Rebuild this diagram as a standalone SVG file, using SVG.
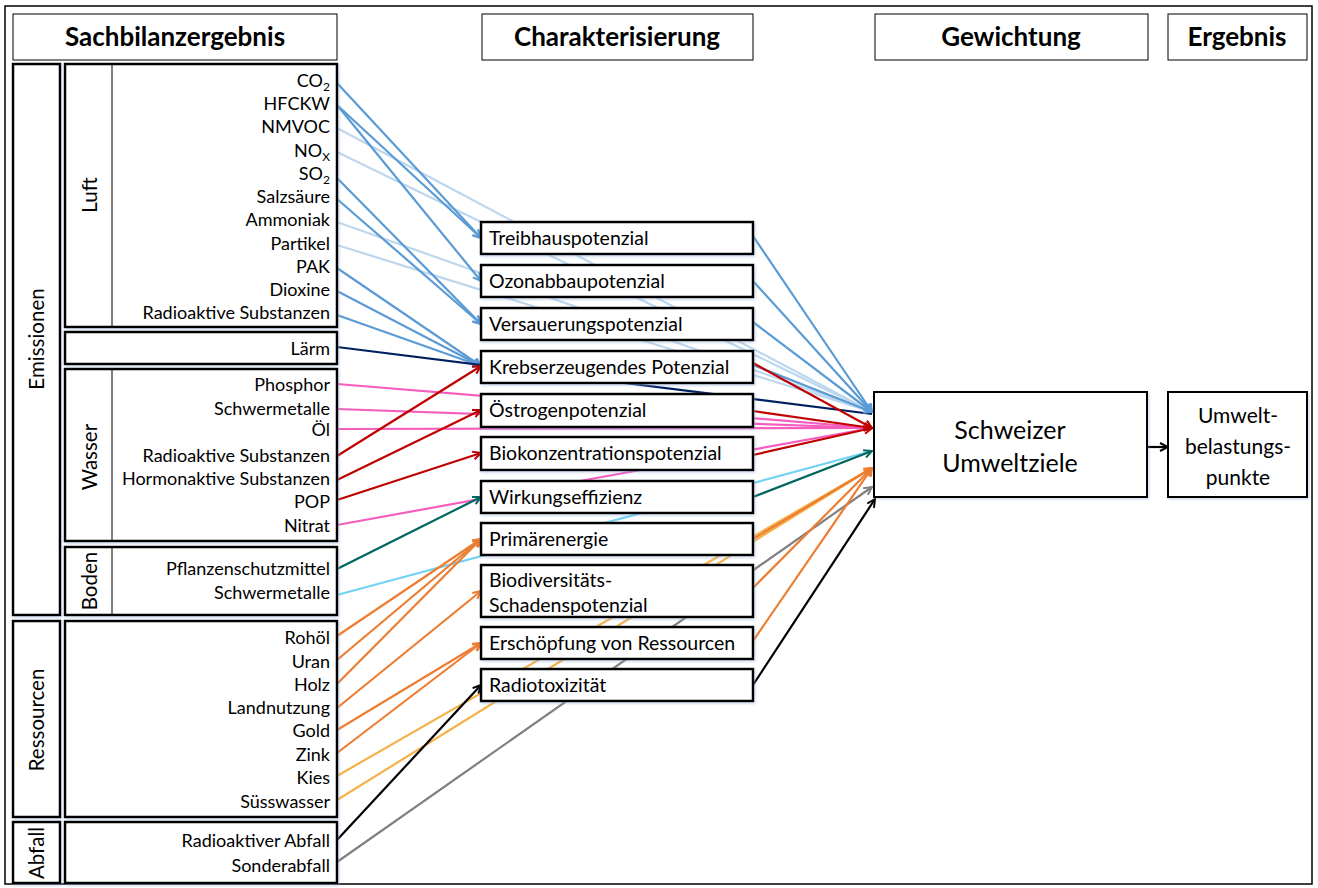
<svg xmlns="http://www.w3.org/2000/svg" width="1318" height="888" viewBox="0 0 1318 888">
<style>
text{font-family:Lato,"Open Sans","Liberation Sans",sans-serif;fill:#000}
.frame{fill:#fff;stroke:#000;stroke-width:1.5}
.hbox{fill:#fff;stroke:#000;stroke-width:1}
.box{fill:#fff;stroke:#000;stroke-width:2.5;filter:url(#sh)}
.thin{stroke:#000;stroke-width:1}
.hdr{font-weight:bold;font-size:26px;text-anchor:middle}
.lbl{font-size:18px;text-anchor:end}
.sub{font-size:12px}
.rot{font-size:20.5px;text-anchor:middle}
.mid{font-size:19.5px}
.big{font-size:25px;text-anchor:middle}
.res{font-size:21px;text-anchor:middle}
.c path{fill:none;stroke-width:2.2}
.bl{stroke:#5B9BD5}
.lb{stroke:#BDD7EE}
.nv{stroke:#002060}
.pk{stroke:#F55DBE}
.rd{stroke:#C00000}
.tl{stroke:#00665E}
.cy{stroke:#72D1F4}
.or{stroke:#ED7D31}
.lo{stroke:#F5B24A}
.gy{stroke:#808080}
.bk{stroke:#000}
</style>
<defs>
<filter id="sh" x="-5%" y="-5%" width="110%" height="120%">
<feDropShadow dx="1.2" dy="1.5" stdDeviation="1" flood-color="#8faad0" flood-opacity="0.45"/>
</filter>
<marker id="aBl" viewBox="0 0 10 10" refX="9" refY="5" markerWidth="10" markerHeight="10" markerUnits="userSpaceOnUse" orient="auto"><path d="M1,1 L9,5 L1,9" fill="none" stroke="#5B9BD5" stroke-width="2"/></marker>
<marker id="aRd" viewBox="0 0 10 10" refX="9" refY="5" markerWidth="10" markerHeight="10" markerUnits="userSpaceOnUse" orient="auto"><path d="M1,1 L9,5 L1,9" fill="none" stroke="#C00000" stroke-width="2"/></marker>
<marker id="aTl" viewBox="0 0 10 10" refX="9" refY="5" markerWidth="10" markerHeight="10" markerUnits="userSpaceOnUse" orient="auto"><path d="M1,1 L9,5 L1,9" fill="none" stroke="#00665E" stroke-width="2"/></marker>
<marker id="aOr" viewBox="0 0 10 10" refX="9" refY="5" markerWidth="10" markerHeight="10" markerUnits="userSpaceOnUse" orient="auto"><path d="M1,1 L9,5 L1,9" fill="none" stroke="#ED7D31" stroke-width="2"/></marker>
<marker id="aGy" viewBox="0 0 10 10" refX="9" refY="5" markerWidth="10" markerHeight="10" markerUnits="userSpaceOnUse" orient="auto"><path d="M1,1 L9,5 L1,9" fill="none" stroke="#808080" stroke-width="2"/></marker>
<marker id="aBk" viewBox="0 0 10 10" refX="9" refY="5" markerWidth="10" markerHeight="10" markerUnits="userSpaceOnUse" orient="auto"><path d="M1,1 L9,5 L1,9" fill="none" stroke="#000" stroke-width="2"/></marker>
</defs>

<rect class="frame" x="5" y="6" width="1307" height="878"/>

<g id="headers">
<g id="h-sachbilanz"><rect class="hbox" x="13" y="14" width="324" height="46"/><text class="hdr" x="175" y="46">Sachbilanzergebnis</text></g>
<g id="h-charakterisierung"><rect class="hbox" x="482" y="14" width="271" height="46"/><text class="hdr" x="617" y="46">Charakterisierung</text></g>
<g id="h-gewichtung"><rect class="hbox" x="875" y="14" width="273" height="46"/><text class="hdr" x="1011" y="46">Gewichtung</text></g>
<g id="h-ergebnis"><rect class="hbox" x="1168" y="14" width="139" height="46"/><text class="hdr" x="1237" y="46">Ergebnis</text></g>
</g>

<g id="connectors" class="c">
<path class="lb" d="M337,128 L872,412"/>
<path class="lb" d="M337,152 L872,412"/>
<path class="lb" d="M337,222 L872,412"/>
<path class="lb" d="M337,245 L872,412"/>
<path class="bl" d="M337,83 L481,238" marker-end="url(#aBl)"/>
<path class="bl" d="M337,105 L481,238" marker-end="url(#aBl)"/>
<path class="bl" d="M337,105 L481,281" marker-end="url(#aBl)"/>
<path class="bl" d="M337,178 L481,324" marker-end="url(#aBl)"/>
<path class="bl" d="M337,199 L481,324" marker-end="url(#aBl)"/>
<path class="bl" d="M337,268 L481,366" marker-end="url(#aBl)"/>
<path class="bl" d="M337,291 L481,366" marker-end="url(#aBl)"/>
<path class="bl" d="M337,315 L481,366" marker-end="url(#aBl)"/>
<path class="nv" d="M337,347 L872,414"/>
<path class="pk" d="M337,384 L872,428"/>
<path class="pk" d="M337,409 L872,428"/>
<path class="pk" d="M337,429 L872,428"/>
<path class="pk" d="M337,525 L872,428"/>
<path class="rd" d="M337,456 L481,366" marker-end="url(#aRd)"/>
<path class="rd" d="M337,480 L481,410" marker-end="url(#aRd)"/>
<path class="rd" d="M337,500 L481,453" marker-end="url(#aRd)"/>
<path class="cy" d="M337,595 L872,451"/>
<path class="tl" d="M337,569 L481,497" marker-end="url(#aTl)"/>
<path class="lo" d="M337,776 L872,468"/>
<path class="lo" d="M337,800 L872,468"/>
<path class="gy" d="M337,862 L872,487" marker-end="url(#aGy)"/>
<path class="or" d="M337,636 L481,539" marker-end="url(#aOr)"/>
<path class="or" d="M337,660 L481,539" marker-end="url(#aOr)"/>
<path class="or" d="M337,684 L481,539" marker-end="url(#aOr)"/>
<path class="or" d="M337,708 L481,591" marker-end="url(#aOr)"/>
<path class="or" d="M337,730 L481,643" marker-end="url(#aOr)"/>
<path class="or" d="M337,753 L481,643" marker-end="url(#aOr)"/>
<path class="bk" d="M337,840 L481,685" marker-end="url(#aBk)"/>
<path class="bl" d="M753,236 L872,412" marker-end="url(#aBl)"/>
<path class="bl" d="M753,281 L872,412" marker-end="url(#aBl)"/>
<path class="bl" d="M753,322 L872,412" marker-end="url(#aBl)"/>
<path class="bl" d="M753,365 L872,412" marker-end="url(#aBl)"/>
<path class="rd" d="M753,363 L872,428" marker-end="url(#aRd)"/>
<path class="rd" d="M753,411 L872,428" marker-end="url(#aRd)"/>
<path class="rd" d="M753,455 L872,428" marker-end="url(#aRd)"/>
<path class="tl" d="M753,497 L872,451" marker-end="url(#aTl)"/>
<path class="or" d="M753,539 L872,468" marker-end="url(#aOr)"/>
<path class="or" d="M753,588 L872,468" marker-end="url(#aOr)"/>
<path class="or" d="M753,641 L872,468" marker-end="url(#aOr)"/>
<path class="bk" d="M753,685 L875,499" marker-end="url(#aBk)"/>
<path class="bk" d="M1147,447 L1168,447" marker-end="url(#aBk)"/>
</g>

<g id="emissionen"><rect class="box" x="13" y="64" width="47" height="551"/><text class="rot" transform="translate(44,339) rotate(-90)">Emissionen</text></g>
<g id="luft">
<rect class="box" x="65" y="64" width="272" height="263"/><line class="thin" x1="112" y1="64" x2="112" y2="327"/>
<text class="rot" transform="translate(97,195) rotate(-90)">Luft</text>
<text class="lbl" x="330" y="87">CO<tspan class="sub" dy="4">2</tspan></text>
<text class="lbl" x="330" y="110">HFCKW</text>
<text class="lbl" x="330" y="133">NMVOC</text>
<text class="lbl" x="330" y="157">NO<tspan class="sub" dy="4">X</tspan></text>
<text class="lbl" x="330" y="180">SO<tspan class="sub" dy="4">2</tspan></text>
<text class="lbl" x="330" y="203">Salzsäure</text>
<text class="lbl" x="330" y="226">Ammoniak</text>
<text class="lbl" x="330" y="250">Partikel</text>
<text class="lbl" x="330" y="273">PAK</text>
<text class="lbl" x="330" y="296">Dioxine</text>
<text class="lbl" x="330" y="319">Radioaktive Substanzen</text>
</g>
<g id="laerm"><rect class="box" x="65" y="332" width="272" height="32"/><text class="lbl" x="330" y="355">Lärm</text></g>
<g id="wasser">
<rect class="box" x="65" y="369" width="272" height="172"/><line class="thin" x1="112" y1="369" x2="112" y2="541"/>
<text class="rot" transform="translate(97,457) rotate(-90)">Wasser</text>
<text class="lbl" x="330" y="391">Phosphor</text>
<text class="lbl" x="330" y="415">Schwermetalle</text>
<text class="lbl" x="330" y="436">Öl</text>
<text class="lbl" x="330" y="462">Radioaktive Substanzen</text>
<text class="lbl" x="330" y="485">Hormonaktive Substanzen</text>
<text class="lbl" x="330" y="508">POP</text>
<text class="lbl" x="330" y="532">Nitrat</text>
</g>
<g id="boden">
<rect class="box" x="65" y="547" width="272" height="68"/><line class="thin" x1="112" y1="547" x2="112" y2="615"/>
<text class="rot" transform="translate(97,581) rotate(-90)">Boden</text>
<text class="lbl" x="330" y="575">Pflanzenschutzmittel</text>
<text class="lbl" x="330" y="599">Schwermetalle</text>
</g>
<g id="ressourcen">
<rect class="box" x="13" y="621" width="47" height="196"/><text class="rot" transform="translate(44,720) rotate(-90)">Ressourcen</text>
<rect class="box" x="65" y="621" width="272" height="196"/>
<text class="lbl" x="330" y="644">Rohöl</text>
<text class="lbl" x="330" y="668">Uran</text>
<text class="lbl" x="330" y="691">Holz</text>
<text class="lbl" x="330" y="714">Landnutzung</text>
<text class="lbl" x="330" y="737">Gold</text>
<text class="lbl" x="330" y="761">Zink</text>
<text class="lbl" x="330" y="784">Kies</text>
<text class="lbl" x="330" y="808">Süsswasser</text>
</g>
<g id="abfall">
<rect class="box" x="13" y="822" width="47" height="61"/><text class="rot" transform="translate(44,853) rotate(-90)">Abfall</text>
<rect class="box" x="65" y="822" width="272" height="61"/>
<text class="lbl" x="330" y="847">Radioaktiver Abfall</text>
<text class="lbl" x="330" y="872">Sonderabfall</text>
</g>

<g id="treibhaus"><rect class="box" x="481" y="222" width="272" height="32"/><text class="mid" x="489" y="245">Treibhauspotenzial</text></g>
<g id="ozonabbau"><rect class="box" x="481" y="265" width="272" height="32"/><text class="mid" x="489" y="288">Ozonabbaupotenzial</text></g>
<g id="versauerung"><rect class="box" x="481" y="308" width="272" height="32"/><text class="mid" x="489" y="331">Versauerungspotenzial</text></g>
<g id="krebs"><rect class="box" x="481" y="351" width="272" height="32"/><text class="mid" x="489" y="374">Krebserzeugendes Potenzial</text></g>
<g id="oestrogen"><rect class="box" x="481" y="394" width="272" height="33"/><text class="mid" x="489" y="417">Östrogenpotenzial</text></g>
<g id="biokonz"><rect class="box" x="481" y="437" width="272" height="33"/><text class="mid" x="489" y="460">Biokonzentrationspotenzial</text></g>
<g id="wirkung"><rect class="box" x="481" y="481" width="272" height="32"/><text class="mid" x="489" y="504">Wirkungseffizienz</text></g>
<g id="primaer"><rect class="box" x="481" y="523" width="272" height="32"/><text class="mid" x="489" y="546">Primärenergie</text></g>
<g id="biodiv"><rect class="box" x="481" y="565" width="272" height="52"/><text class="mid" x="489" y="587">Biodiversitäts-</text><text class="mid" x="489" y="612">Schadenspotenzial</text></g>
<g id="erschoepfung"><rect class="box" x="481" y="627" width="272" height="32"/><text class="mid" x="489" y="650">Erschöpfung von Ressourcen</text></g>
<g id="radiotox"><rect class="box" x="481" y="669" width="272" height="32"/><text class="mid" x="489" y="692">Radiotoxizität</text></g>

<g id="schweizer"><rect class="box" x="874" y="392" width="273" height="105" style="stroke-width:2"/><text class="big" x="1010" y="439">Schweizer</text><text class="big" x="1010" y="472">Umweltziele</text></g>
<g id="ubp"><rect class="box" x="1168" y="392" width="139" height="105" style="stroke-width:2"/><text class="res" x="1238" y="423">Umwelt-</text><text class="res" x="1238" y="454">belastungs-</text><text class="res" x="1238" y="485">punkte</text></g>
</svg>
